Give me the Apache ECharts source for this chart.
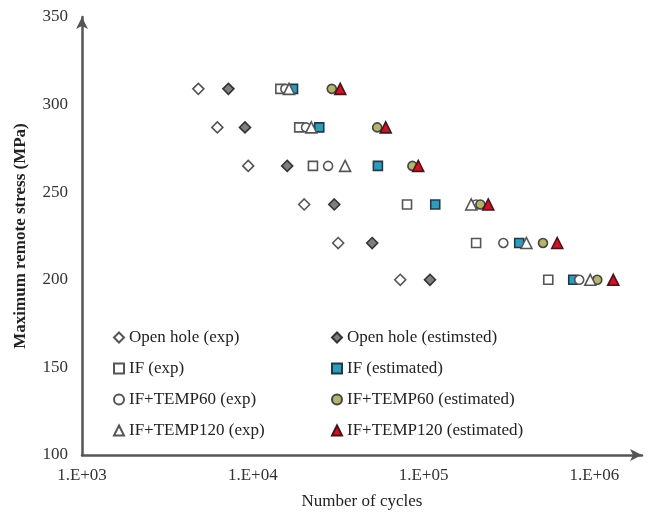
<!DOCTYPE html>
<html>
<head>
<meta charset="utf-8">
<script src="https://cdn.jsdelivr.net/npm/echarts@6/dist/echarts.min.js"></script>
<style>
  html, body { margin: 0; padding: 0; background: #fff; }
  #chart { width: 652px; height: 515px; }
</style>
</head>
<body>
<div id="chart"></div>
<script>
// stress levels (MPa), one per test row
var stressLevels = [309, 287, 265, 243, 221, 200];

// number of cycles, same order as stressLevels
var openHoleExp = [4800, 6200, 9400, 20000, 31600, 73000];
var openHoleEst = [7200, 9000, 15900, 30000, 50000, 109000];
var ifExp = [14500, 18700, 22500, 80000, 203000, 537000];
var ifEst = [17200, 24500, 54000, 117000, 363000, 752000];
var temp60Exp = [15500, 20500, 27600, 203000, 293000, 815000];
var temp60Est = [29000, 53500, 86000, 215000, 500000, 1040000];
var temp120Exp = [16300, 22000, 34700, 190000, 400000, 946000];
var temp120Est = [32500, 60000, 93000, 239000, 606000, 1290000];

var yTicks = [100, 150, 200, 250, 300, 350];

var serif = '"Liberation Serif", "DejaVu Serif", serif';
var fs = 17;

function pts(cycles) {
  return cycles.map(function (c, i) { return [c, stressLevels[i]]; });
}

// 散点系列
function mk(name, cycles, symbol, size, fill, border) {
  return {
    name: name,
    type: 'scatter',
    symbol: symbol,
    symbolSize: size,
    itemStyle: { color: fill, borderColor: border, borderWidth: 1.6, opacity: 1 },
    data: pts(cycles)
  };
}

var myChart = echarts.init(document.getElementById('chart'), null, { renderer: 'canvas' });

var option = {
  backgroundColor: '#fff',
  animation: false,
  grid: { left: 82, right: 10, top: 17, bottom: 58 },
  legend: [
    {
      orient: 'vertical',
      left: 108, top: 324,
      itemWidth: 10, itemHeight: 10, itemGap: 14,
      textStyle: { fontFamily: serif, fontSize: fs, color: '#222' },
      data: ['Open hole (exp)', 'IF (exp)', 'IF+TEMP60 (exp)', 'IF+TEMP120 (exp)']
    },
    {
      orient: 'vertical',
      left: 326, top: 324,
      itemWidth: 10, itemHeight: 10, itemGap: 14,
      textStyle: { fontFamily: serif, fontSize: fs, color: '#222' },
      data: ['Open hole (estimsted)', 'IF (estimated)', 'IF+TEMP60 (estimated)', 'IF+TEMP120 (estimated)']
    }
  ],
  xAxis: {
    type: 'log',
    logBase: 10,
    min: 1000,
    max: 1900000,
    name: 'Number of cycles',
    nameLocation: 'middle',
    nameGap: 38,
    nameTextStyle: { fontFamily: serif, fontSize: fs, color: '#222' },
    axisLine: {
      lineStyle: { color: '#555', width: 2.5 },
      symbol: ['none', 'arrow'],
      symbolSize: [9, 12]
    },
    axisTick: { show: false },
    splitLine: { show: false },
    axisLabel: {
      showMaxLabel: false,
      margin: 12,
      fontFamily: serif, fontSize: fs, color: '#333',
      formatter: function (v) { return '1.E+0' + Math.round(Math.log10(v)); }
    }
  },
  yAxis: {
    type: 'value',
    min: yTicks[0],
    max: yTicks[yTicks.length - 1],
    interval: 50,
    name: 'Maximum remote stress (MPa)',
    nameLocation: 'middle',
    nameGap: 53,
    nameTextStyle: { fontFamily: serif, fontSize: fs, fontWeight: 'bold', color: '#222' },
    axisLine: {
      show: true,
      lineStyle: { color: '#555', width: 2.5 },
      symbol: ['none', 'arrow'],
      symbolSize: [9, 12]
    },
    axisTick: { show: false },
    splitLine: { show: false },
    axisLabel: { margin: 14, fontFamily: serif, fontSize: fs, color: '#333' }
  },
  series: [
    mk('Open hole (exp)', openHoleExp, 'diamond', 11, '#fff', '#555'),
    mk('Open hole (estimsted)', openHoleEst, 'diamond', 11, '#7f7f7f', '#333'),
    mk('IF (exp)', ifExp, 'rect', 9, '#fff', '#555'),
    mk('IF (estimated)', ifEst, 'rect', 9, '#2e9cba', '#1f3a4a'),
    mk('IF+TEMP60 (exp)', temp60Exp, 'circle', 9, '#fff', '#555'),
    mk('IF+TEMP60 (estimated)', temp60Est, 'circle', 9, '#b4b46c', '#444'),
    mk('IF+TEMP120 (exp)', temp120Exp, 'triangle', 11, '#fff', '#555'),
    mk('IF+TEMP120 (estimated)', temp120Est, 'triangle', 11, '#d0112b', '#4a1414')
  ]
};

myChart.setOption(option);
</script>
</body>
</html>
